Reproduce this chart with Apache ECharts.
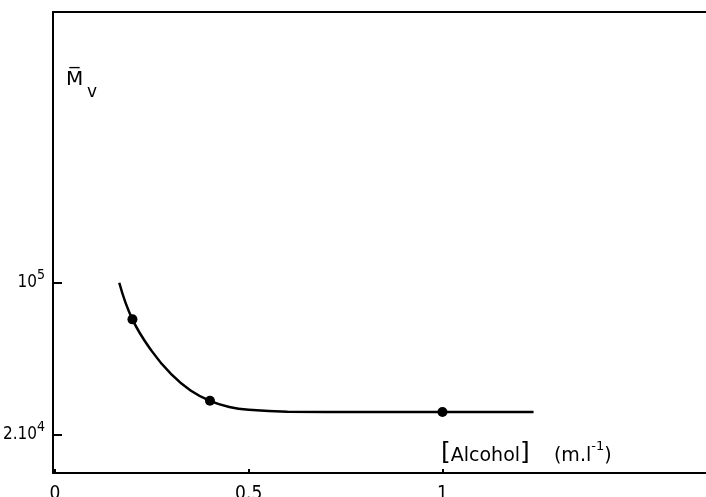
<!DOCTYPE html>
<html><head><meta charset="utf-8">
<script src="https://cdn.jsdelivr.net/npm/echarts@6/dist/echarts.min.js"></script>
<style>html,body{margin:0;padding:0;background:#fff}#c{width:706px;height:497px}</style>
</head><body><div id="c"></div>
<script>
// Fitted curve
const curveX = [0.166, 0.200, 0.250, 0.300, 0.350, 0.400, 0.450, 0.500, 0.600, 0.800, 1.000, 1.235];
const curveY = [99800, 67800, 48500, 38000, 32000, 28700, 26900, 26100, 25600, 25500, 25500, 25500];
// Measured points
const pointX = [0.2, 0.4, 1.0];
const pointY = [67800, 28700, 25500];
// Ticks
const xTicks = [0, 0.5, 1];
const xTickLabels = ['0', '0.5', '1'];
const yTicks = [20000, 100000];
const yTickBase = ['2.10', '10'];
const yTickExp = ['4', '5'];

const FONT = '"Liberation Sans Narrow", "DejaVu Sans Condensed", "DejaVu Sans"';
const chart = echarts.init(document.getElementById('c'), null, {renderer: 'canvas'});
const xMin = -0.005, xMax = 1.68;
chart.setOption({
  animation: false,
  backgroundColor: '#fff',
  grid: {left: 53, right: 0, top: 12, bottom: 24, containLabel: false, outerBoundsMode: 'none'},
  xAxis: [{
    type: 'value', min: xMin, max: xMax,
    axisLine: {onZero: false, lineStyle: {color: '#000', width: 2}},
    axisTick: {inside: true, length: 4, customValues: xTicks, lineStyle: {color: '#000', width: 2}},
    axisLabel: {customValues: xTicks, margin: 12, fontSize: 19, fontFamily: FONT, color: '#000',
      formatter: v => { const i = xTicks.indexOf(v); return i >= 0 ? xTickLabels[i] : ''; }},
    splitLine: {show: false}
  }, {
    type: 'value', position: 'top', min: xMin, max: xMax,
    axisLine: {show: true, onZero: false, lineStyle: {color: '#000', width: 2}},
    axisTick: {show: false}, axisLabel: {show: false}, splitLine: {show: false}
  }],
  yAxis: {
    type: 'log', logBase: 10, min: 13400, max: 1737000,
    axisLine: {show: true, onZero: false, lineStyle: {color: '#000', width: 2}},
    axisTick: {inside: true, length: 9, customValues: yTicks, lineStyle: {color: '#000', width: 2}},
    minorTick: {show: false},
    axisLabel: {customValues: yTicks, margin: 8, color: '#000',
      formatter: v => {
        let i = -1;
        yTicks.forEach((t, k) => { if (Math.abs(t - v) / t < 1e-6) i = k; });
        return i >= 0 ? '{n|' + yTickBase[i] + '}{s|' + yTickExp[i] + '}' : '';
      },
      rich: {
        n: {fontSize: 17, lineHeight: 17, fontFamily: FONT, color: '#000', verticalAlign: 'bottom'},
        s: {fontSize: 14, lineHeight: 14, fontFamily: FONT, color: '#000', verticalAlign: 'bottom', padding: [0, 0, 9, 0]}
      }},
    splitLine: {show: false}
  },
  graphic: [
    {type: 'text', left: 66, top: 70, style: {text: 'M\u0305', font: '20px "DejaVu Sans"', fill: '#000'}},
    {type: 'text', left: 87, top: 84, style: {text: 'v', font: '17px "DejaVu Sans"', fill: '#000'}},
    {type: 'text', left: 441, top: 440, style: {
      text: '{b|[}{t|Alcohol}{b|]}{t|    (m.l}{s|-1}{t|)}',
      rich: {
        b: {fontSize: 25, lineHeight: 27, fontFamily: 'DejaVu Sans', fill: '#000', verticalAlign: 'bottom'},
        t: {fontSize: 19, lineHeight: 22, fontFamily: 'DejaVu Sans', fill: '#000', verticalAlign: 'bottom'},
        s: {fontSize: 13, lineHeight: 13, fontFamily: 'DejaVu Sans', fill: '#000', verticalAlign: 'bottom', padding: [0, 0, 13, 0]}
      }
    }}
  ],
  series: [{
    type: 'line', smooth: 0.45, showSymbol: false, symbol: 'none',
    data: curveX.map((x, i) => [x, curveY[i]]),
    lineStyle: {color: '#000', width: 2.5}
  }, {
    type: 'scatter', symbol: 'circle', symbolSize: 10,
    data: pointX.map((x, i) => [x, pointY[i]]),
    itemStyle: {color: '#000', opacity: 1}
  }]
});
</script></body></html>
